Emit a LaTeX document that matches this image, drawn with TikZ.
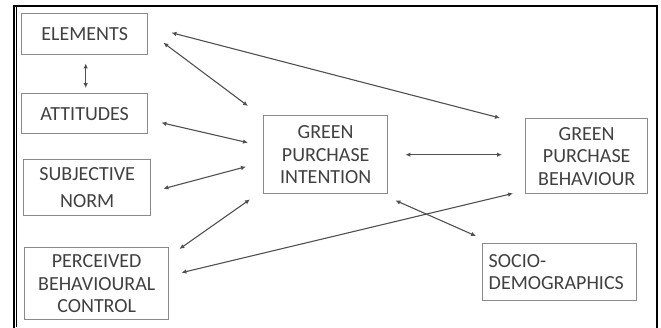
\documentclass[tikz,border=0pt]{standalone}
\usepackage{fontspec}
\setmainfont{Carlito}
\usepackage{xcolor}
\usepackage{tikz}
\usetikzlibrary{arrows.meta, positioning}

\definecolor{boxgray}{HTML}{8A8A8A}
\definecolor{textgray}{HTML}{404040}
\definecolor{linegray}{HTML}{505050}

\begin{document}
\begin{tikzpicture}[x=1pt, y=-1pt, >={Latex[length=5pt,width=4.5pt]},
    every node/.style={font=\fontsize{20}{22.5}\selectfont, text=textgray},
    box/.style={rectangle, draw=boxgray, line width=1.4pt, inner sep=0pt, align=center, anchor=north west},
    link/.style={<->, draw=linegray, line width=1.1pt},
]
\useasboundingbox (0,0) rectangle (661,327);
\clip (0,0) rectangle (661,327);
\draw[line width=1.6pt] (14,6) rectangle (657,345);
\draw[line width=1.2pt] (16.5,6) -- (16.5,327);

\node[box, minimum width=126pt, minimum height=41pt] (elements) at (21,13) {ELEMENTS};
\node[box, minimum width=126pt, minimum height=40pt] (attitudes) at (21,93) {ATTITUDES};
\node[box, minimum width=127pt, minimum height=56pt] (norm) at (23,159) {SUBJECTIVE\\[5pt]NORM};
\node[box, minimum width=144pt, minimum height=72pt] (control) at (24,247) {PERCEIVED\\BEHAVIOURAL\\CONTROL};
\node[box, minimum width=124pt, minimum height=78pt] (intention) at (263,115) {GREEN\\PURCHASE\\INTENTION};
\node[box, minimum width=122pt, minimum height=75pt] (behaviour) at (525,118) {GREEN\\PURCHASE\\BEHAVIOUR};
\node[box, minimum width=154pt, minimum height=57pt, align=left, text width=142pt, inner xsep=6pt] (socio) at (482,243) {SOCIO-\\DEMOGRAPHICS};

\draw[link, shorten <=8pt, shorten >=5pt] ([xshift=1]elements.south) -- ([xshift=1]attitudes.north);
\draw[link] ([shift={(15,8.5)}]elements.east) -- ([shift={(-15,-9)}]intention.north west);
\draw[link] ([shift={(23,-1.5)}]elements.east) -- ([shift={(-25,0)}]behaviour.north west);
\draw[link] ([shift={(13,9)}]attitudes.east) -- ([shift={(-15,-12)}]intention.west);
\draw[link] ([shift={(12,1)}]norm.east) -- ([shift={(-17,12)}]intention.west);
\draw[link] ([shift={(10,2)}]control.north east) -- ([shift={(-13,5)}]intention.south west);
\draw[link] ([shift={(12,-11)}]control.east) -- ([shift={(-12,-1)}]behaviour.south west);
\draw[link] ([shift={(17,0)}]intention.east) -- ([shift={(-23,-1.5)}]behaviour.west);
\draw[link] ([shift={(7,6)}]intention.south east) -- ([shift={(-6,-7)}]socio.north west);

\end{tikzpicture}
\end{document}
